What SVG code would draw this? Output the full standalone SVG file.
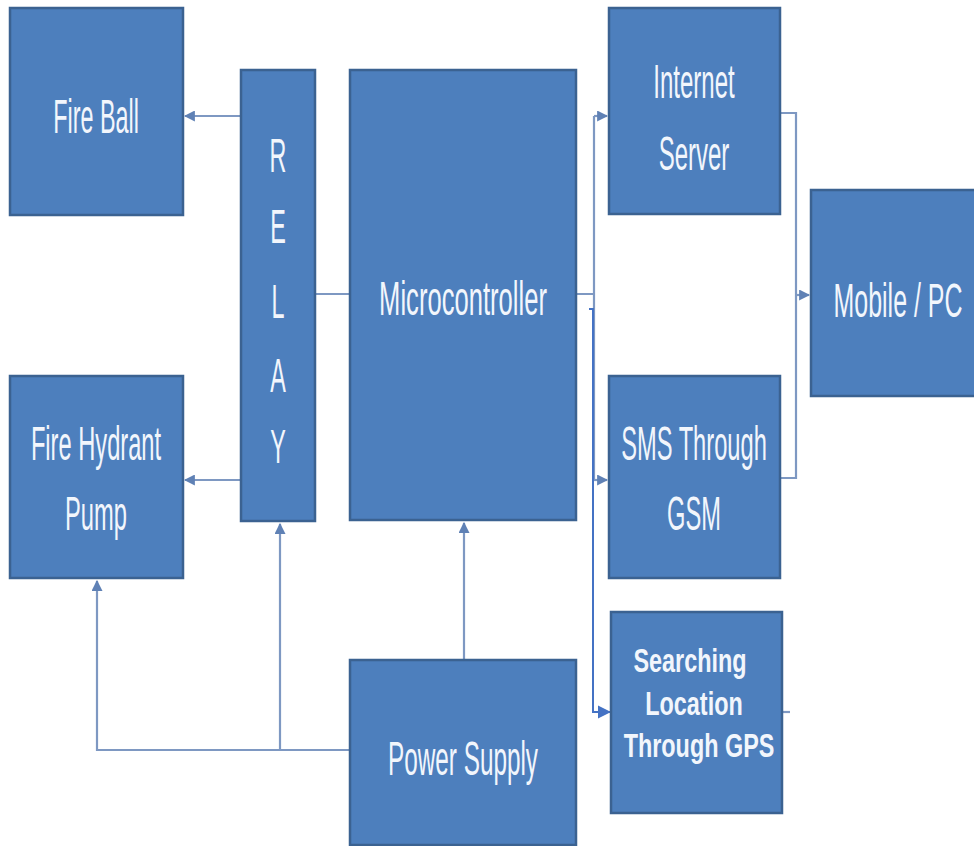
<svg xmlns="http://www.w3.org/2000/svg" width="974" height="846" viewBox="0 0 974 846">
<style>
.box{fill:#4D7FBD;stroke:#3B6291;stroke-width:2.5}
.t{font-family:"Liberation Sans",Arial,sans-serif;font-size:32px;fill:#F2F6FC;text-anchor:middle}
.g{font-family:"Liberation Sans",Arial,sans-serif;font-size:26px;font-weight:bold;fill:#F2F6FC;text-anchor:middle}
.c{fill:none;stroke:#7E98C2;stroke-width:2.2}
.cb{fill:none;stroke:#4472C4;stroke-width:2}
</style>
<defs>
<marker id="a" viewBox="0 0 10 10" refX="9" refY="5" markerWidth="5" markerHeight="5" orient="auto" markerUnits="strokeWidth">
<path d="M0,0 L10,5 L0,10 z" fill="#5F81B5"/>
</marker>
<marker id="ab" viewBox="0 0 10 10" refX="10" refY="5" markerWidth="13" markerHeight="14" orient="auto" markerUnits="userSpaceOnUse">
<path d="M0,0 L10,5 L0,10 z" fill="#4472C4"/>
</marker>
</defs>
<rect width="974" height="846" fill="#FFFFFF"/>
<g id="connectors">
<path class="c" d="M241,116 H185" marker-end="url(#a)"/>
<path class="c" d="M241,480 H185" marker-end="url(#a)"/>
<path class="c" d="M315,294 H350"/>
<path class="c" d="M576,294 H594 M594,116 V480"/>
<path class="c" d="M594,116 H607" marker-end="url(#a)"/>
<path class="c" d="M594,480 H607" marker-end="url(#a)"/>
<path class="c" d="M780,113 H796 V478 H780"/>
<path class="c" d="M796,295 H809" marker-end="url(#a)"/>
<path class="c" d="M782,712 H790"/>
<path class="c" d="M464,660 V523" marker-end="url(#a)"/>
<path class="c" d="M350,750 H97 V581" marker-end="url(#a)"/>
<path class="c" d="M280,750 V524" marker-end="url(#a)"/>
<path class="cb" d="M589,309 H593 V712 H611" marker-end="url(#ab)"/>
</g>
<g id="fireball"><rect class="box" x="10" y="8" width="173" height="207"/><text class="t" transform="translate(96,133) scale(0.73,1.5)">Fire Ball</text></g>
<g id="relay"><rect class="box" x="241" y="70" width="74" height="451"/>
<text class="t" transform="translate(278,172) scale(0.73,1.5)">R</text>
<text class="t" transform="translate(278,243) scale(0.73,1.5)">E</text>
<text class="t" transform="translate(278,318) scale(0.73,1.5)">L</text>
<text class="t" transform="translate(278,392) scale(0.73,1.5)">A</text>
<text class="t" transform="translate(278,463) scale(0.73,1.5)">Y</text></g>
<g id="microcontroller"><rect class="box" x="350" y="70" width="226" height="450"/><text class="t" transform="translate(463,315) scale(0.8,1.5)">Microcontroller</text></g>
<g id="internet"><rect class="box" x="609" y="8" width="171" height="206"/><text class="t" transform="translate(694,98) scale(0.75,1.5)">Internet</text><text class="t" transform="translate(694,170) scale(0.75,1.5)">Server</text></g>
<g id="mobile"><rect class="box" x="811" y="190" width="165" height="206"/><text class="t" transform="translate(898,317) scale(0.78,1.5)">Mobile / PC</text></g>
<g id="sms"><rect class="box" x="609" y="376" width="171" height="202"/><text class="t" transform="translate(694,460) scale(0.74,1.5)">SMS Through</text><text class="t" transform="translate(694,530) scale(0.74,1.5)">GSM</text></g>
<g id="gps"><rect class="box" x="611" y="612" width="171" height="201"/><text class="g" transform="translate(690,672) scale(0.9,1.25)">Searching</text><text class="g" transform="translate(694,715) scale(0.9,1.25)">Location</text><text class="g" transform="translate(699,757) scale(0.9,1.25)">Through GPS</text></g>
<g id="hydrant"><rect class="box" x="10" y="376" width="173" height="202"/><text class="t" transform="translate(96,460) scale(0.74,1.5)">Fire Hydrant</text><text class="t" transform="translate(96,530) scale(0.74,1.5)">Pump</text></g>
<g id="power"><rect class="box" x="350" y="660" width="226" height="185"/><text class="t" transform="translate(463,775) scale(0.76,1.5)">Power Supply</text></g>
</svg>
